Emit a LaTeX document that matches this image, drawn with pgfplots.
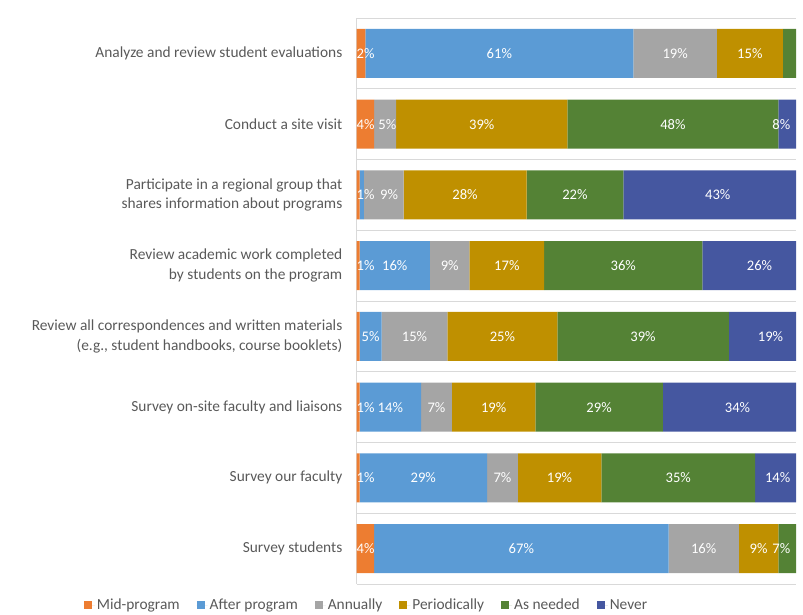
\documentclass[border=0pt]{standalone}
\usepackage{fontspec}
\setmainfont{Carlito}
\usepackage{pgfplots}
\pgfplotsset{compat=1.18}
\definecolor{cMid}{HTML}{ED7D31}
\definecolor{cAfter}{HTML}{5B9BD5}
\definecolor{cAnn}{HTML}{A5A5A5}
\definecolor{cPer}{HTML}{BF9000}
\definecolor{cAs}{HTML}{548235}
\definecolor{cNev}{HTML}{4557A0}
\definecolor{txt}{HTML}{595959}
\definecolor{gridc}{HTML}{D9D9D9}
\begin{document}
\begin{tikzpicture}
\useasboundingbox (0bp,0bp) rectangle (803bp,615bp);
\begin{axis}[
  at={(356.5bp,31bp)}, anchor=south west,
  scale only axis, width=439.5bp, height=566bp,
  xbar stacked, bar width=0.69,
  xmin=0, xmax=100, ymin=-0.5, ymax=7.5, y dir=reverse,
  axis x line=none, axis y line=left,
  y axis line style={draw=gridc, -, line width=0.75bp},
  ytick={0,...,7},
  yticklabels={
    {Analyze and review student evaluations},
    {Conduct a site visit},
    {Participate in a regional group that\\shares information about programs},
    {Review academic work completed\\by students on the program},
    {Review all correspondences and written materials\\(e.g., student handbooks, course booklets)},
    {Survey on-site faculty and liaisons},
    {Survey our faculty},
    {Survey students}},
  yticklabel style={align=right, anchor=east, inner sep=0pt, xshift=-14bp, text=txt, font=\fontsize{15.4bp}{19.5bp}\selectfont},
  minor ytick={-0.5,0.5,...,7.5}, yminorgrids,
  minor grid style={draw=gridc, line width=0.75bp},
  major tick length=0pt, minor tick length=0pt,
  legend columns=6,
  legend style={at={(0.0228,-0.0371)}, anchor=center, draw=none, fill=none,
    font=\fontsize{15.4bp}{18bp}\selectfont, text=txt,
    /tikz/every even column/.append style={column sep=15bp}},
  legend image code/.code={\fill[#1] (0bp,-4bp) rectangle (8bp,4bp); \path (0bp,0bp) -- (11bp,0bp);},
]
\addplot[fill=cMid, draw=none] coordinates {(2,0) (4,1) (0.7,2) (0.7,3) (0.7,4) (0.7,5) (0.7,6) (4,7)};
\addplot[fill=cAfter, draw=none] coordinates {(61,0) (0,1) (1,2) (16,3) (5,4) (14,5) (29,6) (67,7)};
\addplot[fill=cAnn, draw=none] coordinates {(19,0) (5,1) (9,2) (9,3) (15,4) (7,5) (7,6) (16,7)};
\addplot[fill=cPer, draw=none] coordinates {(15,0) (39,1) (28,2) (17,3) (25,4) (19,5) (19,6) (9,7)};
\addplot[fill=cAs, draw=none] coordinates {(3,0) (48,1) (22,2) (36,3) (39,4) (29,5) (35,6) (7,7)};
\addplot[fill=cNev, draw=none] coordinates {(0,0) (8,1) (43,2) (26,3) (19,4) (34,5) (14,6) (0,7)};
\legend{Mid-program, After program, Annually, Periodically, As needed, Never}
\end{axis}
\begin{axis}[
  at={(356.5bp,31bp)}, anchor=south west,
  scale only axis, width=439.5bp, height=566bp,
  xmin=0, xmax=100, ymin=-0.5, ymax=7.5, y dir=reverse,
  hide axis, clip=false,
  every node near coord/.append style={text=white, font=\fontsize{14.6bp}{17bp}\selectfont},
]
\addplot[draw=none, mark=none, nodes near coords, point meta=explicit symbolic,
  nodes near coords align={anchor=center}] coordinates {
  (32.5,0)[61\%] (72.5,0)[19\%] (89.5,0)[15\%]
  (7,1)[5\%] (28.5,1)[39\%] (72,1)[48\%]
  (7.4,2)[9\%] (24.7,2)[28\%] (49.7,2)[22\%] (82.2,2)[43\%]
  (8.7,3)[16\%] (21.2,3)[9\%] (34.2,3)[17\%] (60.7,3)[36\%] (91.7,3)[26\%]
  (3.2,4)[5\%] (13.2,4)[15\%] (33.2,4)[25\%] (65.2,4)[39\%] (94.2,4)[19\%]
  (7.7,5)[14\%] (18.2,5)[7\%] (31.2,5)[19\%] (55.2,5)[29\%] (86.7,5)[34\%]
  (15.2,6)[29\%] (33.2,6)[7\%] (46.2,6)[19\%] (73.2,6)[35\%]
  (37.5,7)[67\%] (79,7)[16\%] (91.5,7)[9\%]
};
\addplot[draw=none, mark=none, nodes near coords, point meta=explicit symbolic,
  nodes near coords align={anchor=west, inner sep=0bp}] coordinates {
  (0,0)[2\%] (0,1)[4\%] (0,2)[1\%] (0,3)[1\%] (0,5)[1\%] (0,6)[1\%] (0,7)[4\%]
};
\addplot[draw=none, mark=none, nodes near coords, point meta=explicit symbolic,
  nodes near coords align={anchor=east, inner sep=0bp}] coordinates {
  (98.75,1)[8\%] (98.75,6)[14\%] (98.75,7)[7\%]
};
\end{axis}
\end{tikzpicture}
\end{document}
